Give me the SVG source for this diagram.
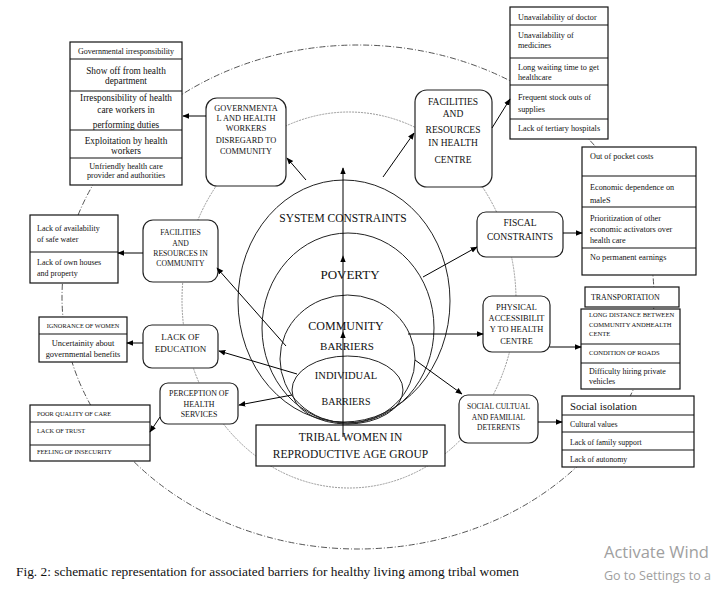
<svg xmlns="http://www.w3.org/2000/svg" width="722" height="590" viewBox="0 0 722 590">
<defs>
<marker id="ah" viewBox="0 0 10 10" refX="9" refY="5" markerWidth="7" markerHeight="7" orient="auto" markerUnits="userSpaceOnUse"><path d="M0,1 L10,5 L0,9 z" fill="#000"/></marker>
</defs>
<style>
.t{font-family:"Liberation Serif","Times New Roman",serif;fill:#111}
.c{text-anchor:middle}
.box{fill:#fff;stroke:#111;stroke-width:1.2}
.rb{fill:#fff;stroke:#222;stroke-width:1.2}
.dv{stroke:#111;stroke-width:1.2}
.ln{stroke:#000;stroke-width:1;fill:none;marker-end:url(#ah)}
.el{fill:none;stroke:#222;stroke-width:1}
</style>
<rect width="722" height="590" fill="#fff"/>
<g id="background-ellipses">
<ellipse cx="358" cy="297" rx="296" ry="252" fill="none" stroke="#555" stroke-width="1" stroke-dasharray="6 2 1 2"/>
<ellipse cx="349" cy="300" rx="167" ry="188" fill="none" stroke="#999" stroke-width="1" stroke-dasharray="2 1"/>
</g>
<g id="core">
<ellipse class="el" cx="344" cy="301" rx="106" ry="121"/>
<ellipse class="el" cx="348" cy="328" rx="86" ry="95"/>
<ellipse class="el" cx="347.5" cy="359" rx="67.5" ry="64"/>
<ellipse class="el" cx="347.5" cy="390" rx="55.5" ry="34"/>
<text class="t c" x="343" y="222" font-size="11.5">SYSTEM CONSTRAINTS</text>
<text class="t c" x="350" y="279" font-size="13">POVERTY</text>
<text class="t c" x="346" y="330" font-size="12">COMMUNITY</text>
<text class="t c" x="347" y="350" font-size="11">BARRIERS</text>
<text class="t c" x="346" y="379" font-size="10.5">INDIVIDUAL</text>
<text class="t c" x="346" y="405" font-size="10">BARRIERS</text>
</g>
<g id="tribal">
<rect class="box" x="256" y="425" width="189" height="41"/>
<text class="t c" x="350.5" y="441" font-size="11.5">TRIBAL WOMEN IN</text>
<text class="t c" x="350.5" y="458" font-size="11.5">REPRODUCTIVE AGE GROUP</text>
</g>
<g id="gov">
<rect class="rb" x="206" y="98" width="80" height="88" rx="11"/>
<g class="t c" font-size="8.3">
<text x="246" y="111">GOVERNMENTA</text><text x="246" y="121">L AND HEALTH</text><text x="246" y="131">WORKERS</text><text x="246" y="143">DISREGARD TO</text><text x="246" y="154">COMMUNITY</text>
</g>
</g>
<g id="gov-list">
<rect class="box" x="70" y="42" width="112" height="143"/>
<line class="dv" x1="70" y1="59" x2="182" y2="59"/><line class="dv" x1="70" y1="91" x2="182" y2="91"/><line class="dv" x1="70" y1="130" x2="182" y2="130"/><line class="dv" x1="70" y1="158" x2="182" y2="158"/>
<g class="t c">
<text x="126" y="53.5" font-size="8">Governmental irresponsibility</text>
<text x="126" y="74" font-size="9.3">Show off from health</text><text x="126" y="84" font-size="9.3">department</text>
<text x="126" y="101" font-size="9.3">Irresponsibility  of health</text><text x="126" y="113" font-size="9.3">care workers in</text><text x="126" y="128" font-size="9.3">performing duties</text>
<text x="126" y="144" font-size="9.3">Exploitation  by health</text><text x="126" y="154" font-size="9.3">workers</text>
<text x="126" y="169" font-size="8.2">Unfriendly health care</text><text x="126" y="178" font-size="8.2">provider and authorities</text>
</g>
</g>
<g id="fac-health">
<rect class="rb" x="415" y="90" width="77" height="97" rx="12"/>
<g class="t c" font-size="9.5">
<text x="453" y="105">FACILITIES</text><text x="453" y="117">AND</text><text x="453" y="133">RESOURCES</text><text x="453" y="146">IN HEALTH</text><text x="453" y="163">CENTRE</text>
</g>
</g>
<g id="health-list">
<rect class="box" x="510" y="7" width="98" height="132"/>
<line class="dv" x1="510" y1="25" x2="608" y2="25"/><line class="dv" x1="510" y1="58" x2="608" y2="58"/><line class="dv" x1="510" y1="85" x2="608" y2="85"/><line class="dv" x1="510" y1="119" x2="608" y2="119"/>
<g class="t" font-size="8.2">
<text x="518" y="19.5">Unavailability of doctor</text>
<text x="518" y="38">Unavailability  of</text><text x="518" y="48">medicines</text>
<text x="518" y="70">Long waiting  time to get</text><text x="518" y="80">healthcare</text>
<text x="518" y="100">Frequent stock outs of</text><text x="518" y="112">supplies</text>
<text x="518" y="131">Lack of tertiary hospitals</text>
</g>
</g>
<g id="fiscal">
<rect class="rb" x="477" y="212" width="86" height="45" rx="9"/>
<text class="t c" x="520" y="226" font-size="9.6">FISCAL</text>
<text class="t c" x="520" y="240" font-size="9.6">CONSTRAINTS</text>
</g>
<g id="fiscal-list">
<rect class="box" x="582" y="147" width="114" height="128"/>
<line class="dv" x1="582" y1="176" x2="696" y2="176"/><line class="dv" x1="582" y1="207" x2="696" y2="207"/><line class="dv" x1="582" y1="248" x2="696" y2="248"/>
<g class="t" font-size="8.2">
<text x="590" y="159">Out of pocket  costs</text>
<text x="590" y="190">Economic dependence  on</text><text x="590" y="203">maleS</text>
<text x="590" y="221">Prioritization of other</text><text x="590" y="232">economic activators over</text><text x="590" y="243">health care</text>
<text x="590" y="260">No permanent  earnings</text>
</g>
</g>
<g id="physical">
<rect class="rb" x="483" y="296" width="67" height="56" rx="9"/>
<g class="t c" font-size="8.4">
<text x="516.5" y="310">PHYSICAL</text><text x="516.5" y="321">ACCESSIBILIT</text><text x="516.5" y="332">Y TO HEALTH</text><text x="516.5" y="344">CENTRE</text>
</g>
</g>
<g id="transport-list">
<rect class="box" x="585" y="287" width="94" height="20"/>
<text class="t" x="591" y="300" font-size="7.9">TRANSPORTATION</text>
<rect class="box" x="581" y="309" width="99" height="80"/>
<line class="dv" x1="581" y1="344" x2="680" y2="344"/><line class="dv" x1="581" y1="363" x2="680" y2="363"/>
<g class="t">
<text x="589" y="317" font-size="6.6">LONG DISTANCE BETWEEN</text><text x="589" y="327" font-size="6.6">COMMUNITY ANDHEALTH</text><text x="589" y="336" font-size="6.6">CENTE</text>
<text x="589" y="355" font-size="6.6">CONDITION OF ROADS</text>
<text x="589" y="374" font-size="8">Difficulty hiring private</text><text x="589" y="384" font-size="8">vehicles</text>
</g>
</g>
<g id="social">
<rect class="rb" x="459" y="395" width="79" height="48" rx="9"/>
<g class="t c" font-size="7.5">
<text x="498.5" y="409">SOCIAL CULTUAL</text><text x="498.5" y="420">AND FAMILIAL</text><text x="498.5" y="430">DETERENTS</text>
</g>
</g>
<g id="social-list">
<rect class="box" x="562" y="396" width="132" height="71"/>
<line class="dv" x1="562" y1="415" x2="694" y2="415"/><line class="dv" x1="562" y1="432" x2="694" y2="432"/><line class="dv" x1="562" y1="450" x2="694" y2="450"/>
<text class="t" x="570" y="410" font-size="10.8">Social isolation</text>
<g class="t" font-size="7.8">
<text x="570" y="427">Cultural values</text><text x="570" y="445">Lack of family support</text><text x="570" y="462">Lack of autonomy</text>
</g>
</g>
<g id="fac-community">
<rect class="rb" x="143" y="220" width="75" height="62" rx="10"/>
<g class="t c" font-size="7.7">
<text x="180.5" y="235">FACILITIES</text><text x="180.5" y="246">AND</text><text x="180.5" y="256">RESOURCES IN</text><text x="180.5" y="266">COMMUNITY</text>
</g>
</g>
<g id="water-list">
<rect class="box" x="30" y="215" width="88" height="68"/>
<line class="dv" x1="30" y1="252" x2="118" y2="252"/>
<g class="t" font-size="8">
<text x="37" y="231">Lack of availability</text><text x="37" y="242">of safe  water</text>
<text x="37" y="265">Lack of own houses</text><text x="37" y="276">and property</text>
</g>
</g>
<g id="education">
<rect class="rb" x="143" y="325" width="75" height="43" rx="9"/>
<text class="t c" x="180.5" y="340" font-size="9">LACK OF</text>
<text class="t c" x="180.5" y="352" font-size="9">EDUCATION</text>
</g>
<g id="ignorance-list">
<rect class="box" x="39" y="317" width="88" height="45"/>
<line class="dv" x1="39" y1="334" x2="127" y2="334"/>
<text class="t c" x="83" y="328" font-size="6.3">IGNORANCE OF WOMEN</text>
<text class="t c" x="83" y="346" font-size="8.4">Uncertainity  about</text>
<text class="t c" x="83" y="357" font-size="8.4">governmental benefits</text>
</g>
<g id="perception">
<rect class="rb" x="160" y="383" width="78" height="41" rx="8"/>
<g class="t c" font-size="7.9">
<text x="199" y="396">PERCEPTION OF</text><text x="199" y="407">HEALTH</text><text x="199" y="417">SERVICES</text>
</g>
</g>
<g id="perception-list">
<rect class="box" x="30" y="405" width="120" height="56"/>
<line class="dv" x1="30" y1="422" x2="150" y2="422"/><line class="dv" x1="30" y1="445" x2="150" y2="445"/>
<g class="t" font-size="6.3">
<text x="37" y="416">POOR QUALITY OF CARE</text><text x="37" y="433">LACK OF TRUST</text><text x="37" y="454">FEELING OF INSECURITY</text>
</g>
</g>
<g id="connectors">
<line class="ln" x1="206" y1="116" x2="183" y2="116"/>
<line class="ln" x1="306" y1="180" x2="287" y2="158"/>
<line class="ln" x1="383" y1="177" x2="414" y2="133"/>
<line class="ln" x1="492" y1="128" x2="510" y2="99"/>
<line class="ln" x1="423" y1="277" x2="477" y2="247"/>
<line class="ln" x1="563" y1="233" x2="582" y2="233"/>
<line class="ln" x1="408" y1="334" x2="483" y2="334"/>
<line class="ln" x1="550" y1="347" x2="581" y2="347"/>
<line class="ln" x1="415" y1="360" x2="462" y2="394"/>
<line class="ln" x1="538" y1="422" x2="562" y2="422"/>
<line class="ln" x1="286" y1="346" x2="217" y2="268"/>
<line class="ln" x1="143" y1="253" x2="118" y2="253"/>
<line class="ln" x1="297" y1="374" x2="219" y2="351"/>
<line class="ln" x1="143" y1="343" x2="127" y2="343"/>
<line class="ln" x1="292" y1="395" x2="239" y2="405"/>
<line class="ln" x1="160" y1="417" x2="150" y2="432"/>
<line class="ln" x1="343" y1="437" x2="343" y2="332"/>
<line class="ln" x1="343" y1="332" x2="343" y2="256"/>
<line class="ln" x1="343" y1="256" x2="343" y2="168"/>
</g>
<text class="t" x="16" y="576" font-size="12.5" textLength="503" lengthAdjust="spacingAndGlyphs">Fig. 2: schematic representation for associated barriers for healthy living among tribal women</text>
<text x="604" y="558" font-family="'Open Sans','Noto Sans',sans-serif" font-size="16.5" fill="#a0a0a0">Activate Wind</text>
<text x="604" y="580" font-family="'Open Sans','Noto Sans',sans-serif" font-size="12.5" fill="#a0a0a0">Go to Settings to a</text>
</svg>
